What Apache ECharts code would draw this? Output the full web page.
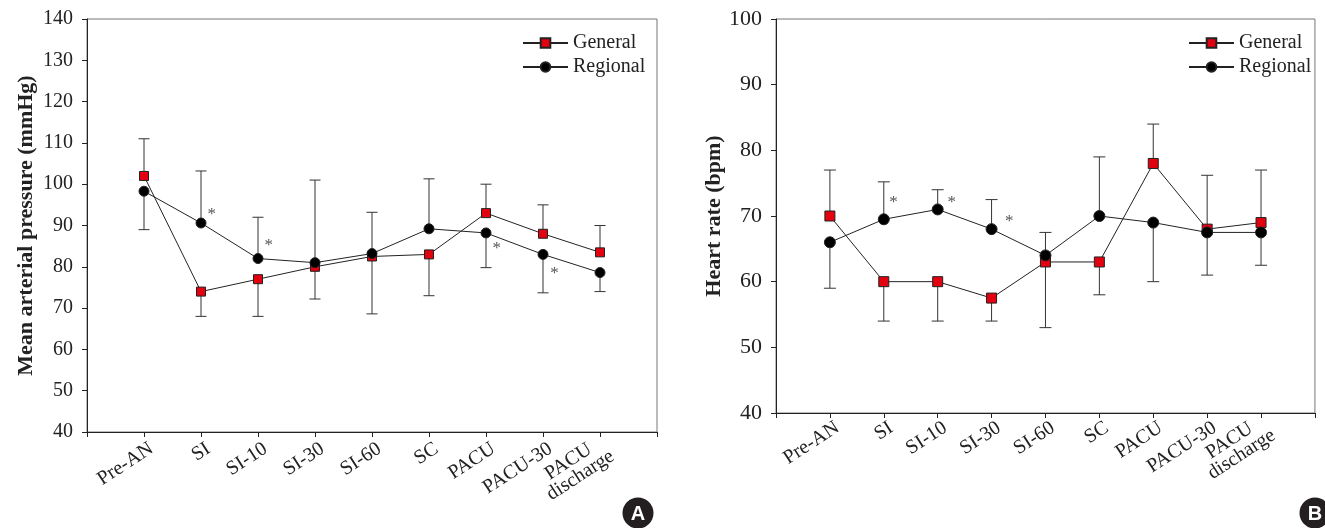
<!DOCTYPE html>
<html>
<head>
<meta charset="utf-8">
<title>MAP and HR</title>
<script src="https://cdn.jsdelivr.net/npm/echarts@6/dist/echarts.min.js"></script>
<style>
  html, body { margin: 0; padding: 0; background: #fff; }
  #chart { width: 1325px; height: 528px; }
</style>
</head>
<body>
<div id="chart"></div>
<script>
// time points (placed at 1..9 on the x axis, 0 and 10 are the empty ends)
var categories = ['Pre-AN', 'SI', 'SI-10', 'SI-30', 'SI-60', 'SC', 'PACU', 'PACU-30', 'PACU   \ndischarge'];

// A: mean arterial pressure (mmHg)
var mapGeneral = [102, 74, 77, 80, 82.5, 83, 93, 88, 83.5];
var mapRegional = [98.3, 90.6, 82, 81, 83.2, 89.2, 88.2, 83, 78.6];
// end of the one-sided error bar for each point
var mapGeneralBar = [111, 68, 68, 72.2, 68.6, 73, 100, 95, 90];
var mapRegionalBar = [89, 103.2, 92, 101, 93.2, 101.3, 79.8, 73.7, 74];
// asterisks [x, y] in axis units
var mapStars = [[2.19, 92.6], [3.19, 85.1], [7.19, 84.4], [8.2, 78.3]];
var mapTicks = [40, 140, 10];

// B: heart rate (bpm)
var hrGeneral = [70, 60, 60, 57.5, 63, 63, 78, 68, 69];
var hrRegional = [66, 69.5, 71, 68, 64, 70, 69, 67.5, 67.5];
var hrGeneralBar = [77, 54, 54, 54, 53, 58, 84, 76.2, 77];
var hrRegionalBar = [59, 75.2, 74, 72.5, 67.5, 79, 60, 61, 62.5];
var hrStars = [[2.18, 72.1], [3.26, 72.1], [4.33, 69.1]];
var hrTicks = [40, 100, 10];

var FONT = 'Liberation Serif';

function pts(values) {
  return values.map(function (v, i) { return [i + 1, v]; });
}
function bars(values, ends) {
  return values.map(function (v, i) { return [i + 1, v, ends[i]]; });
}

function renderBar(capHalf) {
  return function (params, api) {
    var a = api.coord([api.value(0), api.value(1)]);
    var b = api.coord([api.value(0), api.value(2)]);
    var st = { stroke: '#333', lineWidth: 1 };
    return {
      type: 'group',
      children: [
        { type: 'line', shape: { x1: a[0], y1: a[1], x2: b[0], y2: b[1] }, style: st },
        { type: 'line', shape: { x1: b[0] - capHalf, y1: b[1], x2: b[0] + capHalf, y2: b[1] }, style: st }
      ]
    };
  };
}

function renderStar(params, api) {
  var p = api.coord([api.value(0), api.value(1)]);
  return {
    type: 'text',
    x: p[0], y: p[1],
    style: { text: '*', fill: '#555', font: '17px ' + FONT, align: 'center', verticalAlign: 'middle' }
  };
}

function xAxisOf(idx, margin) {
  return {
    type: 'value', gridIndex: idx, min: 0, max: 10, interval: 1,
    splitLine: { show: false },
    axisLine: { lineStyle: { color: '#222', width: 1 } },
    axisTick: { length: 5, lineStyle: { color: '#222' } },
    axisLabel: {
      rotate: 33, margin: margin, color: '#222', fontFamily: FONT, fontSize: 20, lineHeight: 18,
      padding: [0, -9, 0, 0],
      formatter: function (v) { return categories[v - 1] || ''; }
    }
  };
}

function yAxisOf(idx, ticks, name, fs, gap) {
  return {
    type: 'value', gridIndex: idx, min: ticks[0], max: ticks[1], interval: ticks[2],
    name: name, nameLocation: 'middle', nameGap: gap, nameRotate: 90,
    nameTextStyle: { fontFamily: FONT, fontWeight: 'bold', fontSize: 22, color: '#222' },
    splitLine: { show: false },
    axisLine: { show: true, lineStyle: { color: '#222', width: 1 } },
    axisTick: { show: true, length: 5, lineStyle: { color: '#222' } },
    axisLabel: { margin: 14, color: '#222', fontFamily: FONT, fontSize: fs }
  };
}

function lineSeries(name, idx, values, symbol, size, color) {
  return {
    name: name, type: 'line', xAxisIndex: idx, yAxisIndex: idx,
    data: pts(values), symbol: symbol, symbolSize: size, z: 5,
    lineStyle: { color: '#222', width: 1 },
    itemStyle: { color: color, borderColor: '#222', borderWidth: 1 }
  };
}

function barSeries(idx, values, ends, cap) {
  return {
    type: 'custom', xAxisIndex: idx, yAxisIndex: idx, z: 3,
    data: bars(values, ends), renderItem: renderBar(cap), silent: true
  };
}

function starSeries(idx, data) {
  return { type: 'custom', xAxisIndex: idx, yAxisIndex: idx, data: data, renderItem: renderStar, silent: true };
}

function legendOf(left) {
  return {
    orient: 'vertical', left: left, top: 28, itemGap: 4, itemWidth: 45, itemHeight: 12,
    data: ['General', 'Regional'], selectedMode: false,
    textStyle: { fontFamily: FONT, fontSize: 20, color: '#222' }
  };
}

function badge(cx, letter) {
  return {
    type: 'group', children: [
      { type: 'circle', shape: { cx: cx, cy: 513, r: 15.5 }, style: { fill: '#231f20' } },
      { type: 'text', x: cx, y: 514, style: {
        text: letter, font: 'bold 20px "Liberation Sans"', fill: '#fff', stroke: '#231f20', lineWidth: 1,
        align: 'center', verticalAlign: 'middle' } }
    ]
  };
}

var chart = echarts.init(document.getElementById('chart'));
chart.setOption({
  animation: false,
  grid: [
    { left: 87, top: 19, width: 570, height: 413, show: true, borderColor: '#777', borderWidth: 1 },
    { left: 776, top: 19, width: 545, height: 394, show: true, borderColor: '#777', borderWidth: 1 }
  ],
  xAxis: [xAxisOf(0, 20), xAxisOf(1, 18)],
  yAxis: [
    yAxisOf(0, mapTicks, 'Mean arterial pressure (mmHg)', 20, 50),
    yAxisOf(1, hrTicks, 'Heart rate (bpm)', 22, 50)
  ],
  legend: [legendOf(517), legendOf(1183)],
  series: [
    barSeries(0, mapGeneral, mapGeneralBar, 5.5),
    barSeries(0, mapRegional, mapRegionalBar, 5.5),
    lineSeries('General', 0, mapGeneral, 'rect', 9, '#e3000f'),
    lineSeries('Regional', 0, mapRegional, 'circle', 10, '#000'),
    starSeries(0, mapStars),
    barSeries(1, hrGeneral, hrGeneralBar, 6),
    barSeries(1, hrRegional, hrRegionalBar, 6),
    lineSeries('General', 1, hrGeneral, 'rect', 10, '#e3000f'),
    lineSeries('Regional', 1, hrRegional, 'circle', 11, '#000'),
    starSeries(1, hrStars)
  ],
  graphic: [badge(638, 'A'), badge(1315, 'B')]
});
window.addEventListener('resize', function () { chart.resize(); });
</script>
</body>
</html>
